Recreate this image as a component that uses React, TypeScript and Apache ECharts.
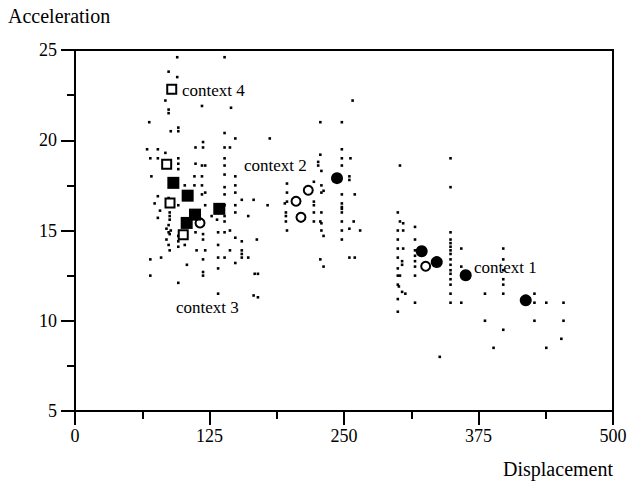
import React, { useEffect, useRef } from "react";
import * as echarts from "echarts";

// Axis settings
const xTicks = [0, 125, 250, 375, 500];
const yTicks = [5, 10, 15, 20, 25];

// Background observations (displacement, acceleration)
const observations: [number, number][] = [
  [95, 24.6], [139, 24.6], [87, 23.8], [95, 23.5], [84, 22.2], [87, 21.7], [87, 21.5],
  [118, 21.9], [145, 21.8], [69, 21.0], [96, 20.7], [96, 20.5], [89, 20.5],
  [139, 20.4], [119, 19.9], [149, 20.1], [67, 19.5], [77, 19.5], [84, 19.3],
  [112, 19.6], [119, 19.6], [139, 19.6], [144, 19.6], [70, 19.0], [77, 19.0],
  [96, 19.0], [96, 18.7], [96, 18.4], [112, 18.7], [118, 18.6], [121, 18.6],
  [139, 19.0], [139, 18.6], [71, 18.0], [111, 18.0], [118, 18.0], [139, 18.1],
  [149, 18.0], [149, 17.5], [102, 17.5], [111, 17.5], [118, 17.5],
  [139, 17.4], [139, 17.0], [149, 17.1], [166, 16.7], [155, 16.7],
  [77, 16.9], [87, 16.8], [118, 17.0], [121, 17.1],
  [74, 16.5], [96, 16.4], [121, 16.4], [139, 16.4], [149, 16.4],
  [79, 16.1], [88, 16.0], [88, 15.8], [88, 15.6], [112, 16.1],
  [127, 15.8], [132, 15.6], [139, 15.8], [139, 15.5], [149, 16.0], [161, 15.8],
  [77, 15.7], [87, 15.3], [85, 15.1], [89, 15.0], [87, 14.9], [88, 14.8], [85, 14.5],
  [96, 14.7], [96, 14.4], [112, 14.9], [119, 14.8], [119, 14.5],
  [133, 14.9], [139, 14.9], [144, 15.0], [149, 14.6], [155, 14.4], [169, 14.5],
  [87, 14.2], [88, 13.9], [96, 14.1], [102, 14.2], [113, 13.9], [121, 13.9],
  [133, 14.2], [144, 13.9], [155, 13.9], [155, 13.7], [70, 13.4], [80, 13.5],
  [119, 13.4], [133, 13.5], [139, 13.5], [149, 13.2], [155, 13.5], [161, 13.5],
  [104, 13.1], [133, 12.9], [119, 12.7], [119, 12.5], [167, 12.6], [170, 12.6],
  [70, 12.5], [96, 12.1], [133, 11.5], [166, 11.4], [170, 11.3],
  [258, 22.2], [228, 21.0], [248, 21.0], [181, 20.1],
  [248, 19.5], [228, 19.2], [248, 19.0], [256, 19.0], [248, 18.6],
  [226, 18.8], [226, 18.6], [229, 18.3], [255, 18.0], [255, 17.8],
  [197, 17.6], [197, 17.1], [197, 16.6], [222, 17.7], [229, 17.5], [229, 17.1], [231, 17.2],
  [248, 17.0], [260, 17.0], [195, 16.5], [179, 16.4], [222, 16.6], [222, 16.4],
  [248, 16.5], [248, 16.3], [248, 16.2], [248, 16.0], [196, 16.0], [196, 15.8], [196, 15.5],
  [222, 16.0], [222, 15.5], [229, 16.0], [228, 15.5], [229, 15.4],
  [248, 15.5], [255, 15.1], [259, 15.5], [265, 15.0], [197, 15.0], [229, 15.0], [231, 14.7],
  [248, 15.0], [248, 14.5], [228, 13.4], [231, 13.0], [255, 13.5], [260, 13.5],
  [302, 18.6], [349, 19.0], [349, 17.4], [300, 16.0], [302, 15.5], [305, 15.4],
  [300, 15.0], [305, 15.0], [316, 15.2], [300, 14.5], [316, 14.5],
  [349, 14.9], [349, 14.5], [349, 14.3], [349, 14.1], [300, 14.0], [305, 14.0],
  [316, 13.9], [316, 13.6], [316, 13.3], [316, 13.0], [300, 13.5], [304, 13.3], [304, 13.1],
  [349, 13.9], [349, 13.7], [349, 13.4], [349, 13.1], [349, 12.8], [349, 12.6], [349, 12.3],
  [359, 14.0], [398, 14.0], [359, 13.0], [300, 12.9], [300, 12.5], [302, 12.5], [316, 12.5],
  [300, 12.0], [301, 11.9], [349, 12.0], [349, 11.5], [304, 11.6], [307, 11.5],
  [300, 11.2], [316, 11.0], [349, 11.0], [359, 11.0], [381, 11.5], [398, 11.5],
  [398, 13.4], [398, 12.8], [398, 12.3], [398, 12.0],
  [427, 11.5], [427, 11.0], [438, 11.0], [454, 11.0],
  [300, 10.5], [381, 10.0], [398, 9.5], [427, 10.0], [454, 10.0],
  [452, 9.0], [389, 8.5], [438, 8.5], [339, 8.0],
];

// Highlighted context markers
const filledCircles: [number, number][] = [
  [243.5, 17.9], [322.2, 13.85], [336.2, 13.25], [363.1, 12.52], [418.9, 11.13],
];
const openCircles: [number, number][] = [
  [216.8, 17.23], [205.4, 16.62], [210.0, 15.73], [116.2, 15.42], [325.9, 13.02],
];
const filledSquares: [number, number][] = [
  [91.4, 17.64], [104.7, 16.93], [134.1, 16.2], [111.5, 15.88], [103.8, 15.42],
];
const openSquares: [number, number][] = [
  [89.9, 22.83], [85.2, 18.67], [88.3, 16.53], [100.6, 14.77],
];

const contextLabels = ["context 1", "context 2", "context 3", "context 4"];

const FONT = '"Liberation Serif", "Times New Roman", serif';

export default function App() {
  const ref = useRef<HTMLDivElement>(null);

  useEffect(() => {
    if (!ref.current) return;
    const chart = echarts.init(ref.current, undefined, { renderer: "svg" });
    const axisCommon = {
      type: "value" as const,
      splitLine: { show: false },
      minorSplitLine: { show: false },
      axisLine: { show: true, onZero: false, lineStyle: { color: "#000", width: 2 } },
      axisTick: { show: true, length: 14, lineStyle: { color: "#000", width: 2 } },
      minorTick: { show: true, splitNumber: 2, length: 8, lineStyle: { color: "#000", width: 2 } },
    };
    const textStyle = (size: number) => `${size}px ${FONT}`;
    const dark = { color: "#000", opacity: 1 };
    const hollow = { color: "#fff", borderColor: "#000", borderWidth: 2, opacity: 1 };
    chart.setOption({
      animation: false,
      backgroundColor: "#fff",
      grid: {
        left: 75, right: 22, top: 50, bottom: 72,
        show: true, borderColor: "#000", borderWidth: 2, backgroundColor: "transparent",
      },
      xAxis: {
        ...axisCommon,
        min: xTicks[0], max: xTicks[xTicks.length - 1], interval: xTicks[1] - xTicks[0],
        axisLabel: { color: "#000", fontFamily: FONT, fontSize: 18, margin: 16 },
      },
      yAxis: {
        ...axisCommon,
        min: yTicks[0], max: yTicks[yTicks.length - 1], interval: yTicks[1] - yTicks[0],
        axisLabel: { color: "#000", fontFamily: FONT, fontSize: 18, margin: 18 },
      },
      series: [
        { type: "scatter", data: observations, symbol: "rect", symbolSize: 2.6, itemStyle: dark, z: 2 },
        { type: "scatter", data: filledCircles, symbol: "circle", symbolSize: 12, itemStyle: dark, z: 3 },
        { type: "scatter", data: openCircles, symbol: "circle", symbolSize: 9, itemStyle: hollow, z: 3 },
        { type: "scatter", data: filledSquares, symbol: "rect", symbolSize: 12, itemStyle: dark, z: 3 },
        { type: "scatter", data: openSquares, symbol: "rect", symbolSize: 9, itemStyle: hollow, z: 3 },
      ],
      graphic: [
        { type: "text", x: 8, y: 16, style: { text: "Acceleration", font: textStyle(20), fill: "#000", align: "left", verticalAlign: "middle" } },
        { type: "text", x: 613, y: 469, style: { text: "Displacement", font: textStyle(20), fill: "#000", align: "right", verticalAlign: "middle" } },
        { type: "text", x: 474, y: 267, style: { text: contextLabels[0], font: textStyle(17), fill: "#000", align: "left", verticalAlign: "middle" } },
        { type: "text", x: 244, y: 165, style: { text: contextLabels[1], font: textStyle(17), fill: "#000", align: "left", verticalAlign: "middle" } },
        { type: "text", x: 176, y: 307, style: { text: contextLabels[2], font: textStyle(17), fill: "#000", align: "left", verticalAlign: "middle" } },
        { type: "text", x: 182, y: 90, style: { text: contextLabels[3], font: textStyle(17), fill: "#000", align: "left", verticalAlign: "middle" } },
      ],
    });
    return () => chart.dispose();
  }, []);

  return (
    <div
      ref={ref}
      style={{ position: "fixed", left: 0, top: 0, width: 635, height: 483, background: "#fff" }}
    />
  );
}
